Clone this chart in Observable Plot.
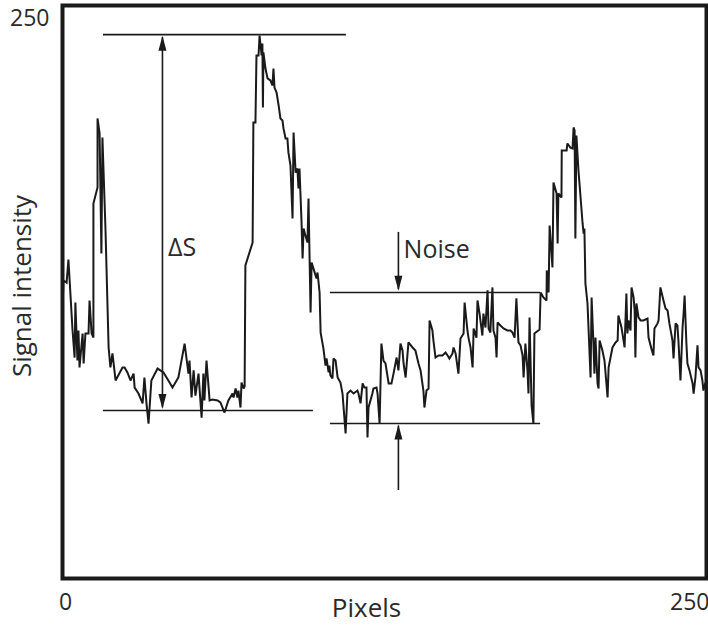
<!DOCTYPE html>
<html>
<head>
<meta charset="utf-8">
<script src="https://cdn.jsdelivr.net/npm/d3@7"></script>
<script src="https://cdn.jsdelivr.net/npm/@observablehq/plot@0.6"></script>
<style>
  html, body { margin: 0; padding: 0; background: #fff; }
  #chart { width: 708px; height: 629px; }
</style>
</head>
<body>
<div id="chart"></div>
<script>
// Signal profile: pixel position (0–250) and signal intensity (0–250)
const pixelPos = [
  0, 0.4, 1.6, 2.3, 3.9, 4.7, 5.0, 5.8, 6.2, 6.6, 7.8, 8.2, 8.9, 10.1, 10.5, 11.3, 12.0, 12.0, 13.6, 13.6,
  14.4, 15.1, 15.5, 16.7, 17.9, 18.6, 19.4, 20.6, 23.3, 24.1, 25.2, 26.4, 27.6, 28.0, 29.5, 31.1, 31.8, 32.6, 33.4, 34.5,
  36.9, 39.2, 41.1, 42.7, 45.0, 47.4, 48.9, 49.3, 50.1, 50.9, 51.6, 52.8, 53.6, 54.0, 54.7, 55.1, 55.9, 57.1, 58.2, 60.2,
  61.3, 62.9, 64.4, 66.0, 66.4, 67.2, 67.9, 68.3, 69.1, 69.5, 70.3, 70.7, 71.0, 73.8, 74.1, 74.9, 75.3, 76.1, 76.5, 77.3,
  77.6, 77.8, 78.0, 78.8, 79.6, 80.7, 81.5, 81.9, 82.3, 83.1, 83.9, 84.6, 85.4, 85.8, 86.6, 87.3, 87.7, 88.5, 89.3, 89.7,
  90.5, 91.2, 91.6, 92.0, 92.8, 93.2, 93.6, 94.3, 95.1, 95.5, 96.3, 96.7, 97.4, 98.6, 99.0, 99.8, 100.2, 101.3, 102.1, 102.5,
  103.3, 103.6, 104.0, 104.8, 105.2, 106.0, 106.8, 107.9, 108.7, 109.9, 110.6, 111.8, 113.0, 114.5, 114.9, 115.7, 116.5, 117.2, 118.0, 118.4,
  118.8, 120.3, 120.7, 121.9, 122.3, 123.1, 123.8, 124.6, 125.4, 126.6, 127.7, 128.5, 129.7, 130.4, 131.2, 132.0, 132.4, 133.2, 134.3, 135.9,
  137.0, 138.2, 139.0, 140.1, 140.5, 141.3, 142.1, 142.5, 143.6, 144.0, 144.8, 146.0, 147.5, 148.7, 149.5, 150.2, 151.4, 151.8, 152.6, 153.7,
  154.5, 155.7, 156.1, 157.2, 157.6, 158.4, 159.2, 159.6, 160.7, 161.1, 161.9, 163.0, 163.4, 164.2, 165.0, 165.4, 166.1, 166.9, 167.3, 168.1,
  168.5, 168.9, 170.0, 171.2, 172.7, 173.9, 174.7, 175.5, 176.2, 177.0, 177.8, 178.6, 179.0, 179.7, 180.5, 180.9, 181.3, 182.1, 182.8, 183.2,
  185.2, 185.6, 186.7, 187.9, 188.0, 188.7, 189.1, 190.2, 190.6, 191.8, 192.2, 192.5, 193.7, 193.8, 195.7, 196.0, 197.2, 198.0, 198.4, 198.8,
  199.1, 199.5, 200.3, 201.9, 202.3, 202.6, 203.0, 203.8, 205.0, 205.4, 206.1, 206.5, 206.9, 207.7, 208.1, 208.5, 209.6, 210.4, 211.6, 212.0,
  213.5, 214.7, 215.5, 215.8, 217.0, 217.8, 218.2, 218.9, 219.3, 219.7, 220.5, 220.9, 221.7, 222.1, 222.4, 222.8, 223.6, 224.4, 225.5, 227.1,
  227.5, 228.6, 229.4, 229.8, 231.0, 231.4, 232.1, 233.3, 234.1, 234.9, 235.6, 236.8, 237.2, 238.0, 238.7, 239.1, 239.9, 240.7, 241.1, 241.5,
  242.2, 242.6, 243.4, 244.6, 245.0, 245.7, 246.5, 246.9, 247.7, 248.4, 248.8, 249.6, 250.0
];
const intensity = [
  117.8, 130.0, 129.1, 139.2, 108.2, 96.4, 120.4, 95.1, 108.2, 92.1, 106.9, 93.8, 106.9, 106.9, 121.3, 106.9, 105.1, 163.6, 170.6, 200.7,
  194.2, 141.8, 192.4, 151.8, 100.8, 92.1, 98.2, 86.4, 92.1, 92.1, 89.9, 86.4, 89.4, 83.3, 80.7, 76.4, 87.7, 76.4, 67.6, 86.4,
  91.6, 89.9, 86.4, 83.3, 87.7, 102.5, 89.4, 95.1, 79.0, 90.8, 79.8, 89.4, 76.4, 70.2, 89.4, 77.7, 95.1, 77.7, 78.1, 77.7,
  76.8, 72.4, 77.7, 80.7, 79.0, 82.9, 79.0, 82.0, 74.6, 85.5, 82.9, 83.8, 136.6, 146.6, 199.0, 199.0, 228.2, 228.2, 236.9, 228.2,
  233.4, 205.5, 229.5, 222.5, 218.2, 217.3, 215.1, 222.5, 214.2, 212.0, 206.4, 200.7, 199.8, 196.3, 192.0, 192.0, 185.9, 180.2, 157.1, 194.6,
  177.1, 178.9, 170.2, 178.9, 155.3, 139.6, 152.7, 149.7, 146.6, 165.8, 116.1, 137.9, 135.3, 130.9, 133.5, 124.8, 107.3, 100.3, 92.9, 96.0,
  89.9, 92.9, 88.6, 87.3, 96.0, 95.1, 87.7, 85.5, 80.7, 63.3, 80.7, 82.0, 80.7, 82.0, 80.7, 76.4, 85.1, 83.3, 83.3, 61.5,
  74.6, 80.7, 82.9, 83.3, 80.7, 67.6, 102.5, 95.1, 93.8, 85.1, 85.1, 89.4, 96.4, 90.8, 102.5, 99.5, 93.8, 87.7, 103.0, 100.8,
  99.5, 93.8, 90.8, 82.0, 74.6, 82.0, 82.9, 112.6, 108.2, 103.8, 96.4, 97.3, 97.3, 98.6, 97.3, 96.0, 98.2, 100.8, 98.2, 89.4,
  104.7, 106.9, 120.4, 108.2, 105.1, 100.8, 92.1, 109.1, 105.1, 121.3, 115.6, 106.0, 115.6, 109.5, 125.7, 109.1, 107.3, 127.0, 108.2, 105.1,
  96.4, 111.7, 110.4, 109.1, 108.2, 108.2, 107.3, 105.1, 122.2, 103.0, 101.7, 97.3, 87.7, 102.5, 90.8, 80.7, 113.9, 75.5, 67.6, 106.9,
  108.6, 124.8, 122.6, 121.3, 134.4, 124.8, 154.0, 135.7, 172.8, 168.0, 146.2, 168.0, 166.2, 186.7, 186.7, 189.8, 188.0, 187.6, 196.8, 195.5,
  148.3, 193.3, 178.0, 154.9, 150.5, 152.7, 128.7, 120.0, 87.7, 122.6, 102.5, 89.4, 105.1, 85.1, 82.9, 103.8, 99.5, 95.1, 79.0, 92.1,
  100.8, 103.0, 103.8, 114.7, 109.5, 103.8, 100.8, 124.3, 106.9, 112.6, 108.2, 127.0, 122.6, 116.9, 96.4, 120.0, 113.9, 112.6, 112.6, 113.4,
  105.1, 100.3, 97.3, 109.1, 111.3, 112.6, 127.0, 121.3, 117.8, 116.9, 111.3, 103.8, 96.0, 111.3, 110.4, 103.8, 86.4, 109.5, 115.6, 123.5,
  102.5, 93.8, 90.8, 85.1, 80.7, 87.7, 101.7, 92.1, 90.8, 86.4, 82.0, 85.5, 80.7
];

// Axis ticks and titles
const xTicks = [0, 250];
const yTicks = [250];
const xTitle = "Pixels";
const yTitle = "Signal intensity";

// Annotation guide lines (data units)
const guideY = [237.3, 73.3, 124.8, 67.6];
const guideX1 = [15.9, 15.9, 104.0, 104.0];
const guideX2 = [110.2, 97.4, 185.6, 185.6];

// Arrow shafts
const shaftX = [38.8, 130.4, 130.4];
const shaftY1 = [74.5, 151.0, 38.4];
const shaftY2 = [236.0, 126.0, 66.5];

// Arrow heads (tip positions, rotation in degrees)
const headX = [38.8, 38.8, 130.4, 130.4];
const headY = [236.8, 73.9, 125.5, 67.2];
const headRot = [0, 180, 180, 0];

// Annotation labels
const labelText = ["ΔS", "Noise"];
const labelX = [41.0, 132.4];
const labelY = [144.0, 143.3];

const signal = pixelPos.map((x, i) => ({x, y: intensity[i]}));
const guides = guideY.map((y, i) => ({y, x1: guideX1[i], x2: guideX2[i]}));
const shafts = shaftX.map((x, i) => ({x, y1: shaftY1[i], y2: shaftY2[i]}));
const heads = headX.map((x, i) => ({x, y: headY[i], r: headRot[i]}));
const labels = labelText.map((t, i) => ({t, x: labelX[i], y: labelY[i]}));

const font = "'Open Sans', 'Noto Sans', sans-serif";
const ink = "#1a1a1a";
const textInk = "#2a2a2a";
const fs = 23;

const chart = Plot.plot({
  width: 708,
  height: 629,
  marginLeft: 62,
  marginRight: 2,
  marginTop: 5,
  marginBottom: 51,
  style: {fontFamily: font, fontSize: fs + "px", color: ink, background: "#fff", overflow: "visible"},
  x: {domain: [0, 250]},
  y: {domain: [0, 250]},
  marks: [
    Plot.ruleY(guides, {y: "y", x1: "x1", x2: "x2", stroke: ink, strokeWidth: 1.6}),
    Plot.ruleX(shafts, {x: "x", y1: "y1", y2: "y2", stroke: ink, strokeWidth: 1.6}),
    Plot.vector(heads, {x: "x", y: "y", rotate: "r", length: 15, r: 4, shape: "spike", anchor: "end", fill: ink, stroke: "none"}),
    Plot.line(signal, {x: "x", y: "y", stroke: ink, strokeWidth: 2, strokeLinejoin: "miter", strokeMiterlimit: 2}),
    Plot.text(labels, {x: "x", y: "y", text: "t", textAnchor: "start", fontSize: 25, fill: textInk}),
    Plot.frame({stroke: ink, strokeWidth: 4}),
    Plot.axisY({ticks: yTicks, tickSize: 0, tickPadding: 13, fontSize: fs, dy: 13, label: null, fill: textInk}),
    Plot.axisX({ticks: [xTicks[0]], tickSize: 0, tickPadding: 15, fontSize: fs, dx: 3, label: null, fill: textInk}),
    Plot.axisX({ticks: [xTicks[1]], tickSize: 0, tickPadding: 15, fontSize: fs, textAnchor: "end", dx: 3, label: null, fill: textInk}),
    Plot.text([xTitle], {frameAnchor: "bottom", text: d => d, fontSize: 26, textAnchor: "middle", dx: -18, dy: 30, lineAnchor: "middle", fill: textInk}),
    Plot.text([yTitle], {frameAnchor: "left", text: d => d, fontSize: 26, textAnchor: "middle", lineAnchor: "middle", rotate: -90, dx: -40, dy: -6, fill: textInk})
  ]
});
document.getElementById("chart").appendChild(chart);
</script>
</body>
</html>
